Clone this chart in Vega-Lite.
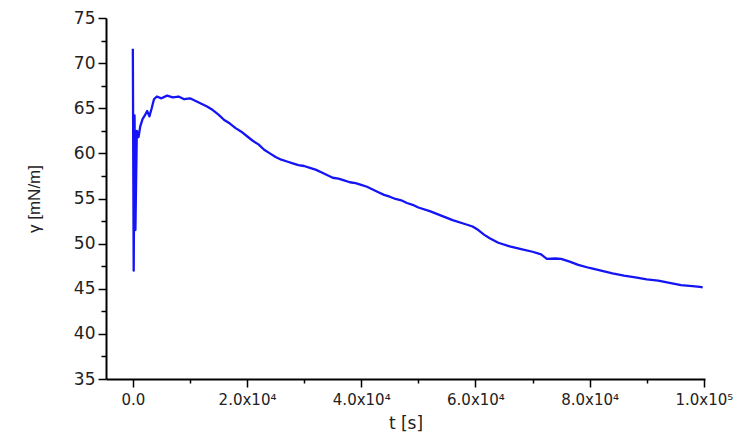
{
  "$schema": "https://vega.github.io/schema/vega-lite/v6.json",
  "width": 599,
  "height": 361,
  "autosize": {"type": "none"},
  "padding": {"left": 106, "top": 18, "right": 34, "bottom": 63},
  "background": "white",
  "config": {
    "view": {"stroke": null},
    "font": "DejaVu Sans",
    "axis": {
      "grid": false,
      "domainColor": "#000",
      "domainWidth": 2,
      "tickColor": "#000",
      "tickWidth": 1.5,
      "labelColor": "#222",
      "titleColor": "#222",
      "titleFontWeight": "normal",
      "labelFont": "DejaVu Sans",
      "titleFont": "DejaVu Sans"
    }
  },
  "data": {
    "values": [
      {"t": 0, "g": 71.6},
      {"t": 150, "g": 47.0},
      {"t": 300, "g": 64.2},
      {"t": 450, "g": 51.5},
      {"t": 700, "g": 62.5},
      {"t": 1000, "g": 61.8},
      {"t": 1300, "g": 63.0},
      {"t": 1700, "g": 63.8},
      {"t": 2100, "g": 64.2},
      {"t": 2500, "g": 64.7},
      {"t": 2900, "g": 64.1},
      {"t": 3300, "g": 65.0},
      {"t": 3700, "g": 66.0},
      {"t": 4200, "g": 66.3},
      {"t": 5000, "g": 66.1},
      {"t": 6000, "g": 66.4},
      {"t": 7000, "g": 66.2},
      {"t": 8000, "g": 66.3},
      {"t": 9000, "g": 66.0},
      {"t": 10000, "g": 66.1},
      {"t": 11000, "g": 65.8},
      {"t": 12000, "g": 65.5},
      {"t": 13000, "g": 65.2},
      {"t": 14000, "g": 64.8},
      {"t": 15000, "g": 64.3},
      {"t": 16000, "g": 63.7},
      {"t": 17000, "g": 63.3},
      {"t": 18000, "g": 62.8},
      {"t": 19000, "g": 62.4},
      {"t": 20000, "g": 61.9},
      {"t": 21000, "g": 61.4},
      {"t": 22000, "g": 61.0},
      {"t": 23000, "g": 60.4},
      {"t": 24000, "g": 60.0},
      {"t": 25000, "g": 59.6},
      {"t": 26000, "g": 59.3},
      {"t": 27000, "g": 59.1},
      {"t": 28000, "g": 58.9},
      {"t": 29000, "g": 58.7},
      {"t": 30000, "g": 58.6},
      {"t": 31000, "g": 58.4},
      {"t": 32000, "g": 58.2},
      {"t": 33000, "g": 57.9},
      {"t": 34000, "g": 57.6},
      {"t": 35000, "g": 57.3},
      {"t": 36000, "g": 57.2},
      {"t": 37000, "g": 57.0},
      {"t": 38000, "g": 56.8},
      {"t": 39000, "g": 56.7},
      {"t": 40000, "g": 56.5},
      {"t": 41000, "g": 56.3},
      {"t": 42000, "g": 56.0},
      {"t": 43000, "g": 55.7},
      {"t": 44000, "g": 55.4},
      {"t": 45000, "g": 55.2},
      {"t": 46000, "g": 54.95},
      {"t": 47000, "g": 54.8},
      {"t": 48000, "g": 54.5},
      {"t": 49000, "g": 54.3},
      {"t": 50000, "g": 54.0},
      {"t": 52000, "g": 53.6},
      {"t": 54000, "g": 53.1},
      {"t": 56000, "g": 52.6},
      {"t": 58000, "g": 52.2},
      {"t": 59500, "g": 51.9},
      {"t": 60500, "g": 51.5},
      {"t": 61500, "g": 51.0},
      {"t": 62500, "g": 50.6},
      {"t": 64000, "g": 50.1},
      {"t": 66000, "g": 49.7},
      {"t": 68000, "g": 49.4},
      {"t": 70000, "g": 49.1},
      {"t": 71500, "g": 48.8},
      {"t": 72500, "g": 48.3},
      {"t": 74000, "g": 48.35},
      {"t": 75000, "g": 48.3},
      {"t": 76500, "g": 48.0},
      {"t": 78000, "g": 47.65},
      {"t": 80000, "g": 47.3},
      {"t": 82000, "g": 47.0},
      {"t": 84000, "g": 46.7},
      {"t": 86000, "g": 46.45},
      {"t": 88000, "g": 46.25},
      {"t": 90000, "g": 46.05},
      {"t": 92000, "g": 45.9},
      {"t": 94000, "g": 45.65},
      {"t": 96000, "g": 45.4},
      {"t": 98000, "g": 45.3},
      {"t": 99300, "g": 45.2},
      {"t": 99800, "g": 45.15}
    ]
  },
  "mark": {"type": "line", "color": "#1414f5", "strokeWidth": 2.3, "strokeJoin": "round"},
  "encoding": {
    "x": {
      "field": "t",
      "type": "quantitative",
      "scale": {"domain": [-4700, 100200], "nice": false, "zero": false},
      "axis": {
        "title": "t [s]",
        "titleFontSize": 17,
        "titlePadding": 8,
        "labelFontSize": 15,
        "labelPadding": 5,
        "labelOverlap": false,
        "values": [0, 10000, 20000, 30000, 40000, 50000, 60000, 70000, 80000, 90000, 100000],
        "labelExpr": "datum.value === 0 ? '0.0' : (datum.value % 20000 !== 0 ? '' : (datum.value === 100000 ? '1.0x10⁵' : format(datum.value / 10000, '.1f') + 'x10⁴'))",
        "tickSize": {"condition": {"test": "datum.value % 20000 === 0", "value": 8}, "value": 4}
      }
    },
    "y": {
      "field": "g",
      "type": "quantitative",
      "scale": {"domain": [35, 75], "nice": false, "zero": false},
      "axis": {
        "title": "γ [mN/m]",
        "titleFont": "Liberation Sans",
        "titleFontSize": 17,
        "titlePadding": 30,
        "labelFontSize": 17,
        "labelPadding": 3,
        "labelOverlap": false,
        "values": [35, 37.5, 40, 42.5, 45, 47.5, 50, 52.5, 55, 57.5, 60, 62.5, 65, 67.5, 70, 72.5, 75],
        "labelExpr": "datum.value % 5 === 0 ? format(datum.value, 'd') : ''",
        "tickSize": {"condition": {"test": "datum.value % 5 === 0", "value": 8}, "value": 5}
      }
    }
  }
}
